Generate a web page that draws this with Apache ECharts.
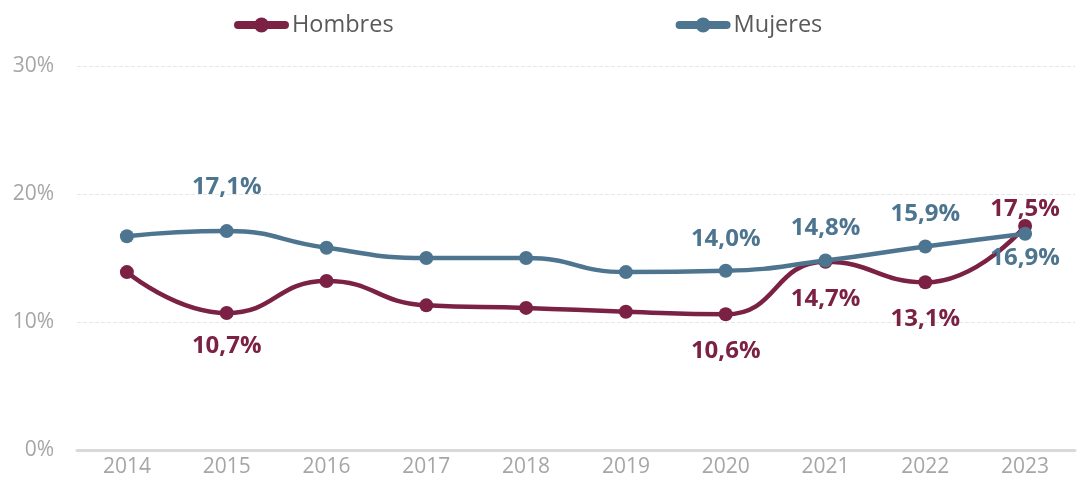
<!DOCTYPE html>
<html><head><meta charset="utf-8">
<script src="https://cdn.jsdelivr.net/npm/echarts@6/dist/echarts.min.js"></script>
<style>html,body{margin:0;padding:0;background:#fff}#c{width:1078px;height:489px}</style>
</head><body><div id="c"></div>
<script>
const years = ['2014','2015','2016','2017','2018','2019','2020','2021','2022','2023'];
const hombres = [13.9, 10.7, 13.2, 11.3, 11.1, 10.8, 10.6, 14.7, 13.1, 17.5];
const mujeres = [16.7, 17.1, 15.8, 15.0, 15.0, 13.9, 14.0, 14.8, 15.9, 16.9];
const hombresLabeled = [1, 6, 7, 8, 9];
const mujeresLabeled = [1, 6, 7, 8, 9];
const yTicks = [0, 10, 20, 30];

const cH = '#7B2244', cM = '#4E7590';
const FONT = 'Open Sans';
const fmt = v => v.toFixed(1).replace('.', ',') + '%';
const lblFont = {fontFamily: FONT, fontWeight: 'bold', fontSize: 24};
const legendIcon = 'path://M4,3.5 L51,3.5 A4,4 0 0 1 51,11.5 L4,11.5 A4,4 0 0 1 4,3.5 Z M20,7.5 A7.5,7.5 0 1 1 35,7.5 A7.5,7.5 0 1 1 20,7.5 Z';

function build(vals, labeled, color, pos, dist, special) {
  return vals.map((v, i) => {
    const d = {value: v};
    if (labeled.includes(i)) {
      const s = special[i] || {};
      d.label = Object.assign({show: true, position: pos, distance: dist, color: color, formatter: p => fmt(p.value)}, lblFont, s);
    } else {
      d.label = {show: false};
    }
    return d;
  });
}

const chart = echarts.init(document.getElementById('c'));
chart.setOption({
  animation: false,
  legend: {
    top: 8, left: 229, itemGap: 282, itemWidth: 55, itemHeight: 15,
    icon: legendIcon,
    textStyle: {color: '#595959', fontSize: 23.5, fontFamily: FONT, padding: [0,0,0,-2]},
    data: ['Hombres', 'Mujeres']
  },
  grid: {left: 77, right: 3, top: 66, bottom: 39},
  xAxis: {
    type: 'category', data: years, boundaryGap: true,
    axisLine: {lineStyle: {color: '#d9d9d9', width: 3}},
    axisTick: {show: false},
    axisLabel: {color: '#a6a6a6', fontSize: 21, fontFamily: FONT, margin: 7}
  },
  yAxis: {
    type: 'value', min: 0, max: 30, interval: 10,
    axisLabel: {color: '#a6a6a6', fontSize: 21, fontFamily: FONT, margin: 23,
      formatter: v => yTicks.includes(v) ? v + '%' : ''},
    splitLine: {lineStyle: {color: '#e6e6e6', type: 'dashed', width: 1}},
    axisLine: {show: false}, axisTick: {show: false}
  },
  series: [
    {
      name: 'Hombres', type: 'line', smooth: 0.5, symbol: 'circle', symbolSize: 14,
      lineStyle: {color: cH, width: 4.5}, itemStyle: {color: cH},
      data: build(hombres, hombresLabeled, cH, 'bottom', 18, {1: {distance: 14}, 9: {position: 'top', distance: -2}}),
      z: 2
    },
    {
      name: 'Mujeres', type: 'line', smooth: 0.5, symbol: 'circle', symbolSize: 14,
      lineStyle: {color: cM, width: 4.5}, itemStyle: {color: cM},
      data: build(mujeres, mujeresLabeled, cM, 'top', 13, {1: {distance: 25}, 9: {position: 'bottom', distance: 5}}),
      z: 3
    }
  ]
});
</script></body></html>
